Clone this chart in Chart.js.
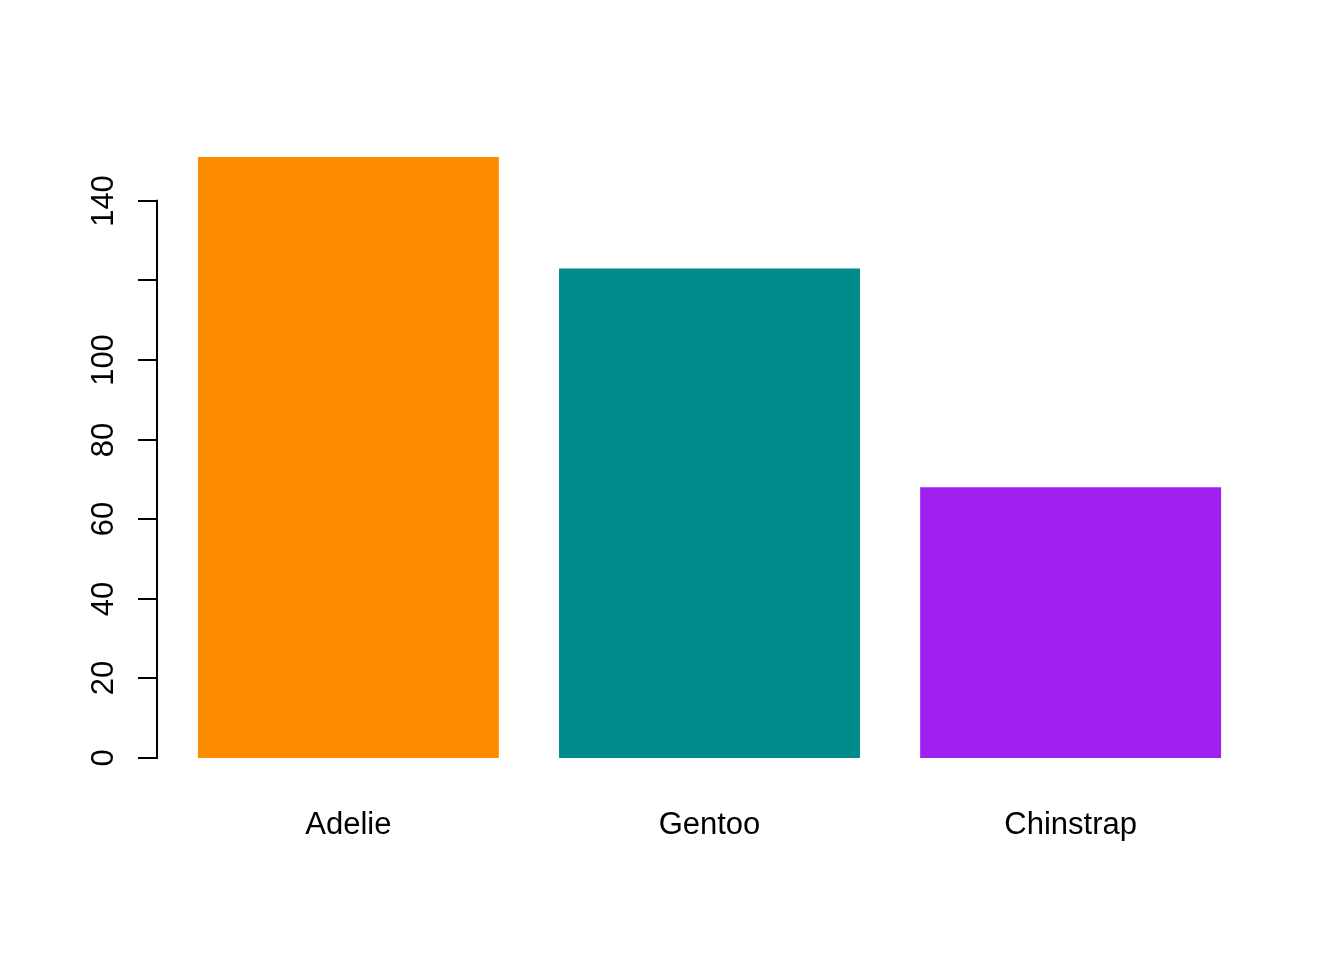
<!DOCTYPE html>
<html>
<head>
<meta charset="utf-8">
<script src="https://cdn.jsdelivr.net/npm/chart.js@4/dist/chart.umd.min.js"></script>
<style>
  html, body { margin: 0; padding: 0; background: #ffffff; }
  #wrap { width: 1344px; height: 960px; }
</style>
</head>
<body>
<div id="wrap"><canvas id="penguinChart" width="1344" height="960"></canvas></div>
<script>
// ================= DATA =================
const species = ['Adelie', 'Gentoo', 'Chinstrap'];
const counts = [151, 123, 68];
const barColors = ['#FF8C00', '#008B8B', '#A020F0'];
const tickValues = [0, 20, 40, 60, 80, 100, 120, 140];
const tickLabels = ['0', '20', '40', '60', '80', '100', '', '140'];

// barplot layout like R: width 1, space 0.2, axes extended by 4%
const barPos = species.map((s, i) => 0.7 + i * 1.2);
const xLo = 0.2, xHi = 0.2 + species.length * 1.2 - 0.2;
const xPad = (xHi - xLo) * 0.04;
const yTop = Math.max(...counts);
const yPad = yTop * 0.04;

const FONT = '31px "Liberation Sans", Arial, sans-serif';

// ================= AXES PLUGIN =================
const rAxes = {
    id: 'rAxes',
    afterDraw(chart) {
        const ctx = chart.ctx;
        const x = chart.scales.x;
        const y = chart.scales.y;
        const left = chart.chartArea.left;

        ctx.save();
        ctx.strokeStyle = '#000';
        ctx.lineWidth = 2;
        ctx.lineCap = 'butt';

        // axis line
        ctx.beginPath();
        ctx.moveTo(left, y.getPixelForValue(tickValues[0]) + 1);
        ctx.lineTo(left, y.getPixelForValue(tickValues[tickValues.length - 1]) - 1);
        ctx.stroke();

        ctx.fillStyle = '#000';
        ctx.font = FONT;
        tickValues.forEach((v, i) => {
            const py = Math.round(y.getPixelForValue(v));
            ctx.beginPath();
            ctx.moveTo(left - 19, py);
            ctx.lineTo(left + 1, py);
            ctx.stroke();

            if (!tickLabels[i]) return;
            ctx.save();
            ctx.translate(left - 44, py);
            ctx.rotate(-Math.PI / 2);
            ctx.textAlign = 'center';
            ctx.textBaseline = 'alphabetic';
            ctx.fillText(tickLabels[i], 0, 0);
            ctx.restore();
        });

        // category names
        ctx.textAlign = 'center';
        ctx.textBaseline = 'alphabetic';
        species.forEach((s, i) => {
            ctx.fillText(s, x.getPixelForValue(barPos[i]), chart.chartArea.bottom + 52);
        });
        ctx.restore();
    }
};

// ================= CHART =================
new Chart(document.getElementById('penguinChart'), {
    type: 'bar',
    data: {
        datasets: [{
            data: counts.map((c, i) => ({ x: barPos[i], y: c })),
            backgroundColor: barColors,
            borderWidth: 0,
            barPercentage: 1 / 1.2,
            categoryPercentage: 1
        }]
    },
    options: {
        responsive: false,
        animation: false,
        devicePixelRatio: 1,
        layout: { padding: { left: 157, right: 82, top: 133, bottom: 178 } },
        plugins: { legend: { display: false }, tooltip: { enabled: false } },
        scales: {
            x: {
                type: 'linear',
                display: false,
                offset: false,
                min: xLo - xPad,
                max: xHi + xPad,
                afterBuildTicks: (scale) => { scale.ticks = barPos.map(v => ({ value: v })); }
            },
            y: {
                type: 'linear',
                display: false,
                min: -yPad,
                max: yTop + yPad
            }
        }
    },
    plugins: [rAxes]
});
</script>
</body>
</html>
